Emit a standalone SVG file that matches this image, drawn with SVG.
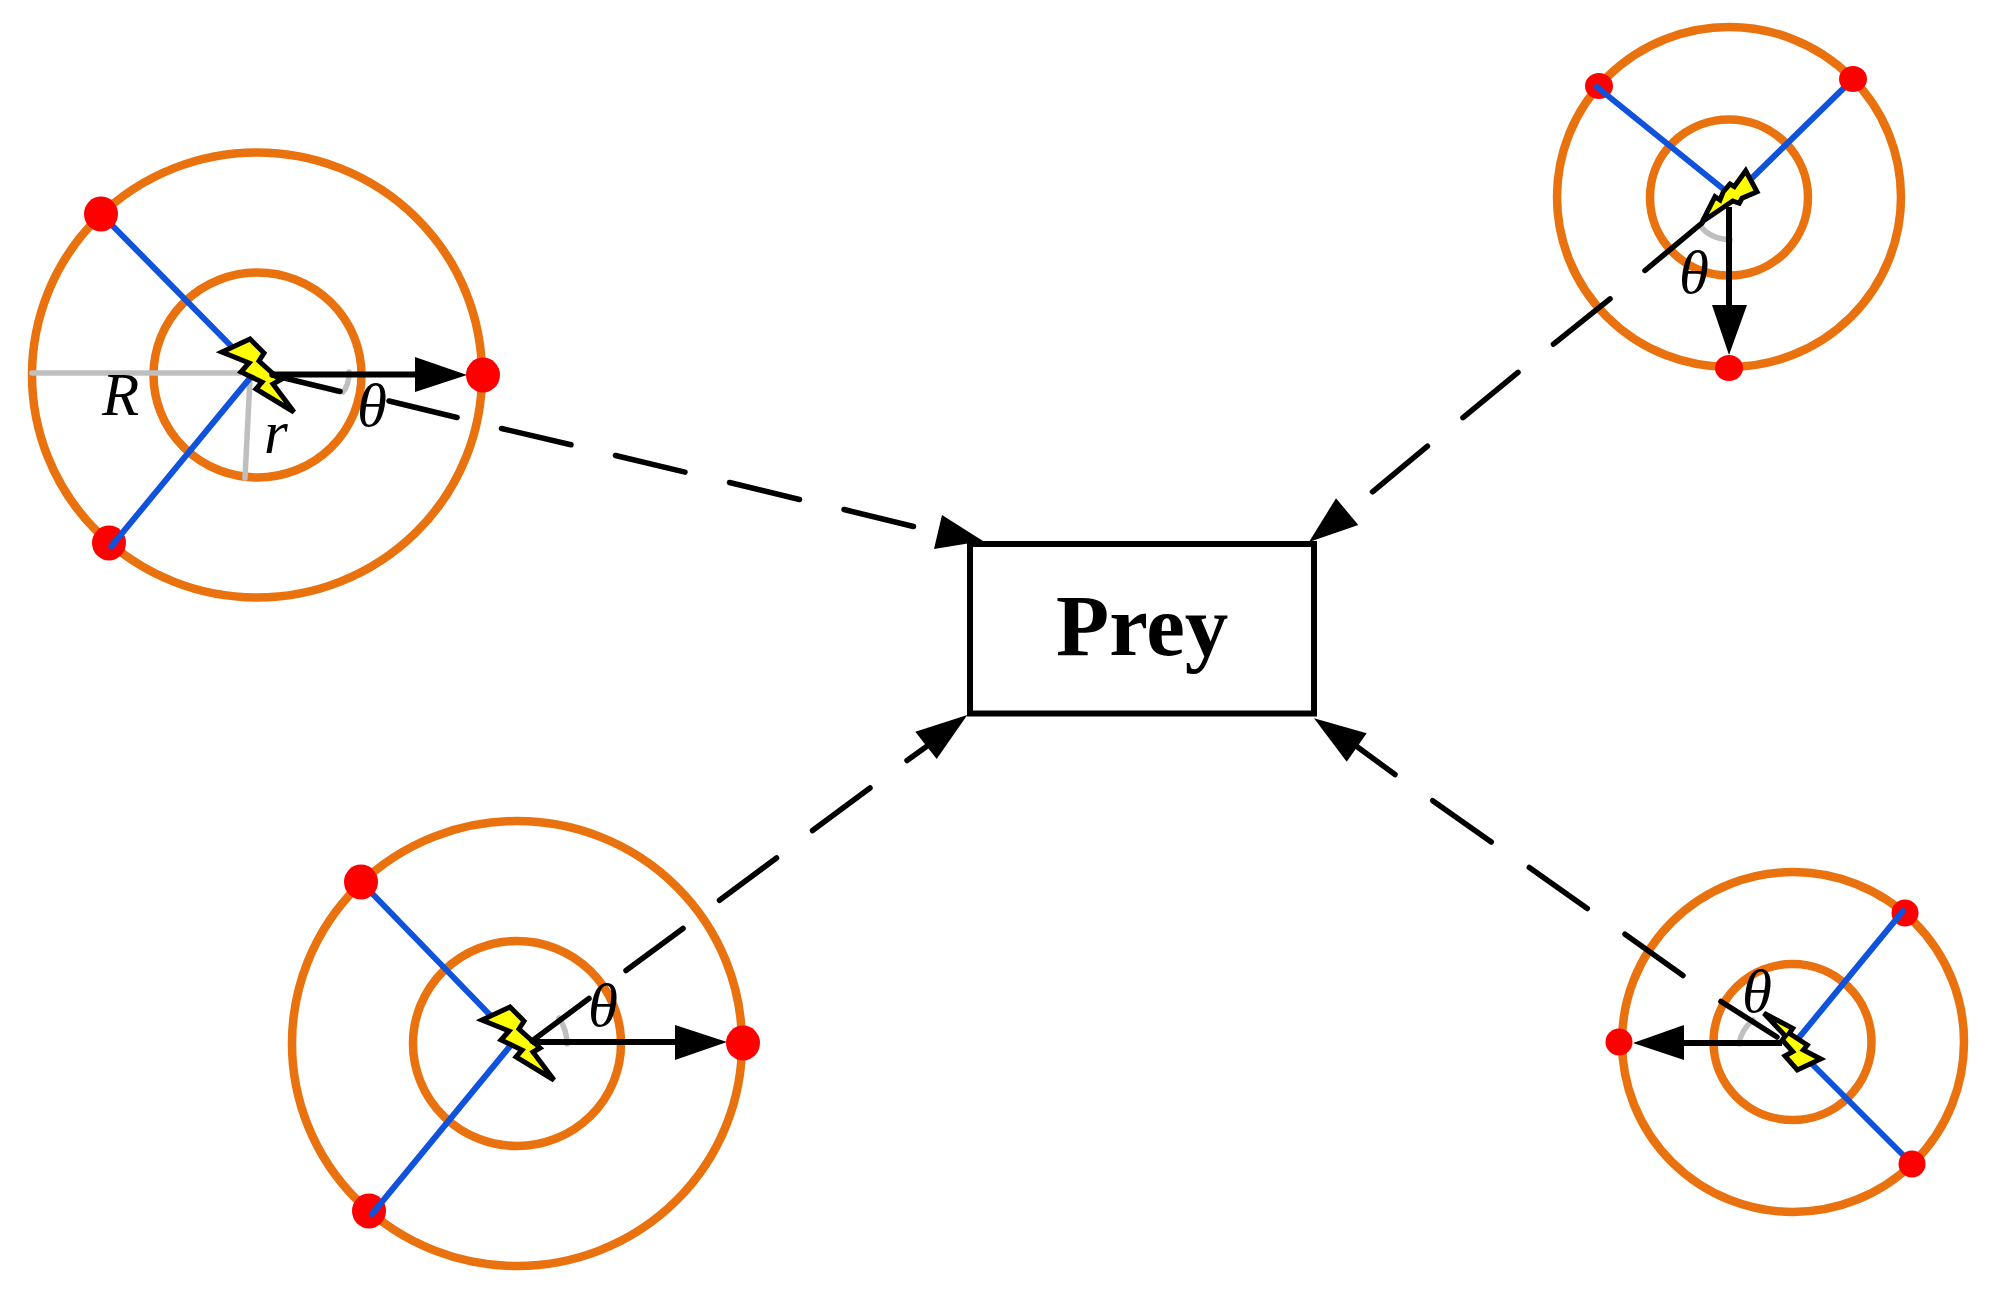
<svg xmlns="http://www.w3.org/2000/svg" width="1991" height="1295" viewBox="0 0 1991 1295">
<style>
.ring{fill:none;stroke:#E9720F;stroke-width:8.500}
.ray{fill:none;stroke:#0F52DC;stroke-width:6;stroke-linecap:round}
.gray{fill:none;stroke:#BFBFBF;stroke-width:5.500;stroke-linecap:round}
.dot{fill:#FF0000}
.bolt{fill:#FFFF00;stroke:#000;stroke-width:5;stroke-linejoin:miter}
.conn{fill:none;stroke:#000;stroke-width:5.500;stroke-linecap:round}
.shaft{fill:none;stroke:#000;stroke-width:6}
.head{fill:#000}
.sym{font-family:"Liberation Serif","Times New Roman",serif;font-style:italic;font-size:61px;fill:#000}
.prey{font-family:"Liberation Serif","Times New Roman",serif;font-weight:bold;font-size:87px;fill:#000}
</style>
<rect width="1991" height="1295" fill="#fff"/>

<g id="node-top-left">
<ellipse class="ring" cx="257" cy="375" rx="225" ry="222.5"/>
<ellipse class="ring" cx="257.5" cy="375" rx="104" ry="102.5"/>
<path class="gray" d="M32 373H240M250 378L245 478"/>
<path class="gray" d="M349 372Q349 385 343 392"/>
<line class="ray" x1="101" y1="214" x2="232" y2="347"/>
<ellipse class="dot" cx="101" cy="214" rx="17" ry="17.5"/>
<ellipse class="dot" cx="109" cy="543" rx="17" ry="17.5"/>
<ellipse class="dot" cx="483" cy="375" rx="17" ry="17.5"/>
<line class="ray" x1="111.500" y1="546" x2="250" y2="378"/>
<polygon class="bolt" points="222,352 250,339 264,353 259,361 280,380 273,384 294,412 256,389 262,382 241,372 249,363"/>
<text class="sym" x="102" y="415">R</text>
<text class="sym" x="264" y="453">r</text>
<text class="sym" x="357" y="426">θ</text>
</g>

<g id="node-top-right">
<ellipse class="ring" cx="1729" cy="197" rx="172" ry="170"/>
<ellipse class="ring" cx="1729" cy="197.500" rx="79" ry="78"/>
<path class="gray" d="M1700 225Q1708 238 1730 240"/>
<line class="ray" x1="1752" y1="178" x2="1853" y2="79"/>
<ellipse class="dot" cx="1599" cy="86" rx="14" ry="13"/>
<ellipse class="dot" cx="1853" cy="79" rx="14" ry="13"/>
<ellipse class="dot" cx="1729" cy="368" rx="14" ry="13"/>
<line class="ray" x1="1597" y1="87" x2="1727" y2="192"/>
<polygon class="bolt" points="1745.700,170.700 1757,191.700 1742,198.300 1739.300,203.300 1732.700,201 1702.300,221.700 1715,196.700 1720,200 1723.300,191.700 1730,184 1734.300,186.700"/>
<text class="sym" x="1679" y="293">θ</text>
</g>

<g id="node-bottom-left">
<ellipse class="ring" cx="517" cy="1043.500" rx="225" ry="222.5"/>
<ellipse class="ring" cx="517" cy="1043.500" rx="104" ry="102.5"/>
<path class="gray" d="M559 1018Q567 1030 567 1044"/>
<line class="ray" x1="361" y1="882" x2="490" y2="1015"/>
<ellipse class="dot" cx="361" cy="882" rx="17" ry="17.5"/>
<ellipse class="dot" cx="369" cy="1211" rx="17" ry="17.5"/>
<ellipse class="dot" cx="743" cy="1043" rx="17" ry="17.5"/>
<line class="ray" x1="372" y1="1214" x2="511" y2="1045"/>
<polygon class="bolt" transform="translate(260 668)" points="222,352 250,339 264,353 259,361 280,380 273,384 294,412 256,389 262,382 241,372 249,363"/>
<text class="sym" x="588" y="1026">θ</text>
</g>

<g id="node-bottom-right">
<ellipse class="ring" cx="1793" cy="1042" rx="171" ry="170"/>
<ellipse class="ring" cx="1792.500" cy="1042" rx="79" ry="78"/>
<path class="gray" d="M1753 1020Q1741 1030 1739 1044"/>
<line class="ray" x1="1813" y1="1065" x2="1912" y2="1164"/>
<ellipse class="dot" cx="1905" cy="913" rx="13.5" ry="13.5"/>
<ellipse class="dot" cx="1912" cy="1164" rx="13.5" ry="13.5"/>
<ellipse class="dot" cx="1619" cy="1042" rx="13.5" ry="13.5"/>
<line class="ray" x1="1903" y1="911" x2="1797" y2="1040"/>
<polygon class="bolt" points="1764,1013.300 1792.700,1028.300 1789.300,1033.300 1807.300,1045 1803.300,1050 1820.700,1059 1797.300,1070 1785,1056 1792.700,1051.700 1782.300,1040 1785.300,1036"/>
<text class="sym" x="1742" y="1012">θ</text>
</g>

<g id="node-prey">
<rect x="970" y="544" width="344" height="169.500" fill="none" stroke="#000" stroke-width="6"/>
<text class="prey" x="1056" y="655">Prey</text>
</g>

<g id="connectors">
<path class="shaft" d="M272 374.500H415"/>
<polygon class="head" points="415,357 467,375 415,392"/>
<path class="conn" d="M272 375L340 391.500M389 401L457 417.500M501.500 428.500L571 444.800M615.500 455.500L685 472.200M729.500 482.500L799.500 499.500M844 509.500L913.500 526.500"/>
<polygon class="head" points="942,515 983,541 934,549"/>

<path class="shaft" d="M1729 207V305"/>
<polygon class="head" points="1712,305 1729,355 1747,305"/>
<path class="conn" d="M1702 223L1645 270.500M1610 298.800L1553.500 344.200M1518 372.300L1463 417.700M1427.500 446.200L1372.500 491.800"/>
<polygon class="head" points="1336,498.300 1358.300,525 1309,542"/>

<path class="shaft" d="M1782 1043H1684"/>
<polygon class="head" points="1684,1025 1633,1043 1684,1060"/>
<path class="conn" d="M1777 1037L1721 1001.500M1683 975.500L1625 934.200M1587.300 908.500L1529.300 867.500M1491.300 842L1432.700 800.700M1395 774.500L1350 741.500"/>
<polygon class="head" points="1314,718.300 1366.700,733.300 1346.700,761.700"/>

<path class="shaft" d="M532 1042H675"/>
<polygon class="head" points="675,1025 727,1042 675,1060"/>
<path class="conn" d="M532 1041L589 998.500M626 970.500L683 928.500M719.500 900.300L776.500 858M812.500 830.500L870 788M907 760.500L930 744"/>
<polygon class="head" points="967.300,715 915.300,731.700 936.700,759"/>
</g>
</svg>
